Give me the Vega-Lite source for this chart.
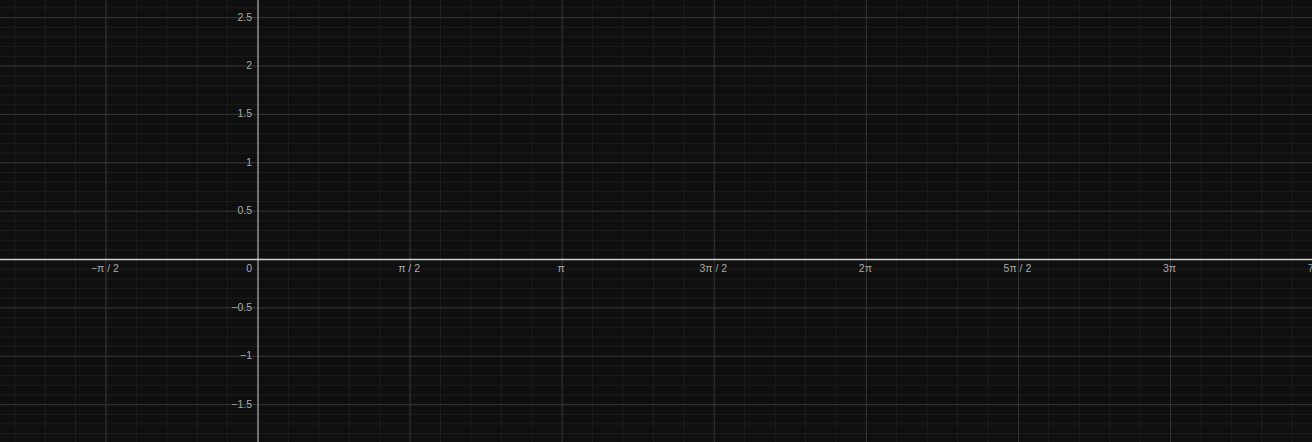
{
  "$schema": "https://vega.github.io/schema/vega-lite/v6.json",
  "width": 1312,
  "height": 442,
  "autosize": {"type": "fit", "contains": "padding"},
  "padding": 0,
  "background": "#0f0f0f",
  "config": {"view": {"stroke": null}},
  "datasets": {
    "minorX": [
      {"x": -2.5133}, {"x": -2.1991}, {"x": -1.885}, {"x": -1.5708}, {"x": -1.2566}, {"x": -0.9425}, {"x": -0.6283}, {"x": -0.3142},
      {"x": 0.3142}, {"x": 0.6283}, {"x": 0.9425}, {"x": 1.2566}, {"x": 1.5708}, {"x": 1.885}, {"x": 2.1991}, {"x": 2.5133},
      {"x": 2.8274}, {"x": 3.1416}, {"x": 3.4558}, {"x": 3.7699}, {"x": 4.0841}, {"x": 4.3982}, {"x": 4.7124}, {"x": 5.0265},
      {"x": 5.3407}, {"x": 5.6549}, {"x": 5.969}, {"x": 6.2832}, {"x": 6.5973}, {"x": 6.9115}, {"x": 7.2257}, {"x": 7.5398},
      {"x": 7.854}, {"x": 8.1681}, {"x": 8.4823}, {"x": 8.7965}, {"x": 9.1106}, {"x": 9.4248}, {"x": 9.7389}, {"x": 10.0531},
      {"x": 10.3673}, {"x": 10.6814}
    ],
    "minorY": [
      {"y": -1.8}, {"y": -1.7}, {"y": -1.6}, {"y": -1.5}, {"y": -1.4}, {"y": -1.3}, {"y": -1.2}, {"y": -1.1}, {"y": -1.0},
      {"y": -0.9}, {"y": -0.8}, {"y": -0.7}, {"y": -0.6}, {"y": -0.5}, {"y": -0.4}, {"y": -0.3}, {"y": -0.2}, {"y": -0.1},
      {"y": 0.1}, {"y": 0.2}, {"y": 0.3}, {"y": 0.4}, {"y": 0.5}, {"y": 0.6}, {"y": 0.7}, {"y": 0.8}, {"y": 0.9}, {"y": 1.0},
      {"y": 1.1}, {"y": 1.2}, {"y": 1.3}, {"y": 1.4}, {"y": 1.5}, {"y": 1.6}, {"y": 1.7}, {"y": 1.8}, {"y": 1.9}, {"y": 2.0},
      {"y": 2.1}, {"y": 2.2}, {"y": 2.3}, {"y": 2.4}, {"y": 2.5}, {"y": 2.6}
    ],
    "majorX": [
      {"x": -1.5708, "label": "−π / 2"},
      {"x": 1.5708, "label": "π / 2"},
      {"x": 3.1416, "label": "π"},
      {"x": 4.7124, "label": "3π / 2"},
      {"x": 6.2832, "label": "2π"},
      {"x": 7.854, "label": "5π / 2"},
      {"x": 9.4248, "label": "3π"},
      {"x": 10.9956, "label": "7π / 2"}
    ],
    "majorY": [
      {"y": -1.5, "label": "−1.5"},
      {"y": -1.0, "label": "−1"},
      {"y": -0.5, "label": "−0.5"},
      {"y": 0.5, "label": "0.5"},
      {"y": 1.0, "label": "1"},
      {"y": 1.5, "label": "1.5"},
      {"y": 2.0, "label": "2"},
      {"y": 2.5, "label": "2.5"}
    ],
    "origin": [{"x": 0, "y": 0, "label": "0"}]
  },
  "layer": [
    {
      "data": {"name": "minorX"},
      "mark": {"type": "rule", "color": "#1d1d1d", "strokeWidth": 1, "clip": true},
      "encoding": {
        "x": {"field": "x", "type": "quantitative", "scale": {"domain": [-2.6648, 10.886], "nice": false, "zero": false}, "axis": null}
      }
    },
    {
      "data": {"name": "minorY"},
      "mark": {"type": "rule", "color": "#1d1d1d", "strokeWidth": 1, "clip": true},
      "encoding": {
        "y": {"field": "y", "type": "quantitative", "scale": {"domain": [-1.8863, 2.6822], "nice": false, "zero": false}, "axis": null}
      }
    },
    {
      "data": {"name": "majorX"},
      "mark": {"type": "rule", "color": "#353535", "strokeWidth": 1, "clip": true},
      "encoding": {
        "x": {"field": "x", "type": "quantitative"}
      }
    },
    {
      "data": {"name": "majorY"},
      "mark": {"type": "rule", "color": "#353535", "strokeWidth": 1, "clip": true},
      "encoding": {
        "y": {"field": "y", "type": "quantitative"}
      }
    },
    {
      "data": {"name": "origin"},
      "mark": {"type": "rule", "color": "#8a8a8a", "strokeWidth": 1.6, "clip": true},
      "encoding": {
        "x": {"field": "x", "type": "quantitative"}
      }
    },
    {
      "data": {"name": "origin"},
      "mark": {"type": "rule", "color": "#d0d0d0", "strokeWidth": 1.3, "clip": true},
      "encoding": {
        "y": {"field": "y", "type": "quantitative"}
      }
    },
    {
      "data": {"name": "majorX"},
      "mark": {"type": "text", "clip": true, "color": "#aaaaaa", "font": "Liberation Sans", "fontSize": 10.5, "align": "center", "baseline": "middle", "dy": 9.5, "dx": -1},
      "encoding": {
        "x": {"field": "x", "type": "quantitative"},
        "y": {"datum": 0},
        "text": {"field": "label"}
      }
    },
    {
      "data": {"name": "majorY"},
      "mark": {"type": "text", "clip": true, "color": "#aaaaaa", "font": "Liberation Sans", "fontSize": 10.5, "align": "right", "baseline": "middle", "dx": -6},
      "encoding": {
        "x": {"datum": 0},
        "y": {"field": "y", "type": "quantitative"},
        "text": {"field": "label"}
      }
    },
    {
      "data": {"name": "origin"},
      "mark": {"type": "text", "clip": true, "color": "#aaaaaa", "font": "Liberation Sans", "fontSize": 10.5, "align": "right", "baseline": "middle", "dx": -6, "dy": 9.5},
      "encoding": {
        "x": {"field": "x", "type": "quantitative"},
        "y": {"field": "y", "type": "quantitative"},
        "text": {"field": "label"}
      }
    }
  ]
}
